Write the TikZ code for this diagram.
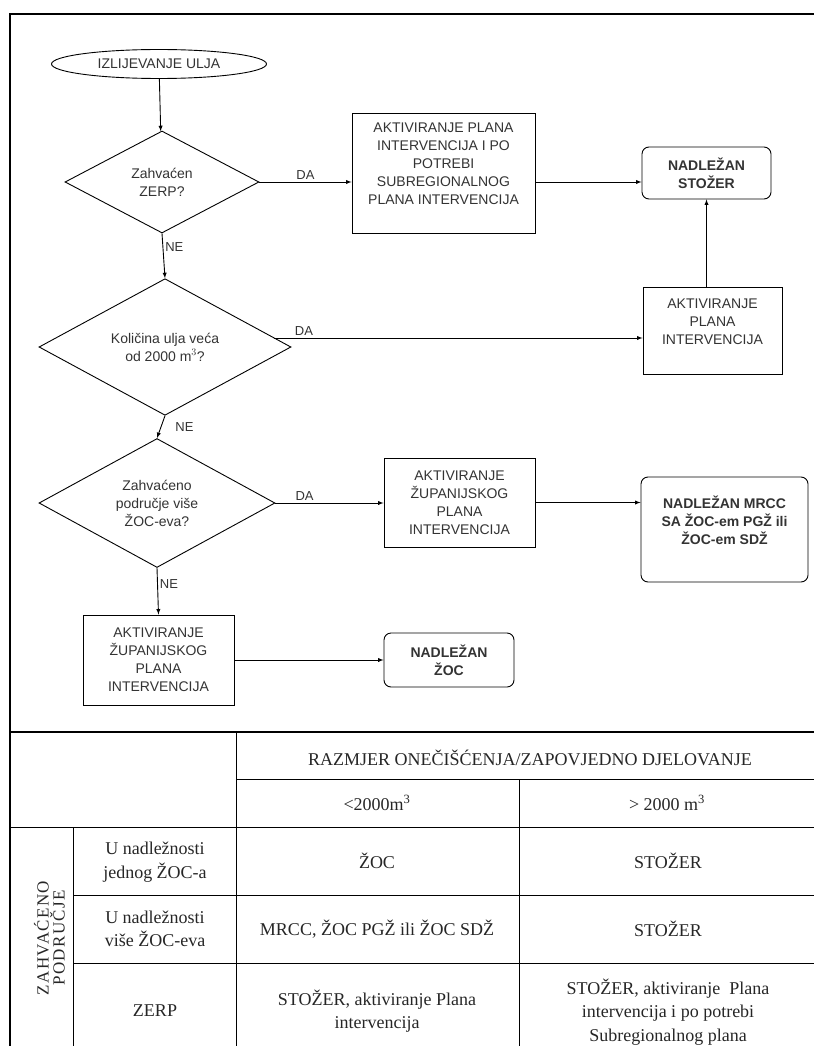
\documentclass[tikz,border=0pt]{standalone}
\usepackage{fontspec}
\setmainfont{Liberation Serif}
\newfontfamily\tokfont{Liberation Sans}
\usetikzlibrary{arrows,shapes.geometric,positioning}

\begin{document}
\begin{tikzpicture}[x=1pt,y=-1pt,
		tok/.style={font=\tokfont\fontsize{14}{18}\selectfont, text=black!80, align=center, inner sep=0pt, line width=0.9pt},
		pocetak/.style={tok, ellipse, draw, minimum width=215pt, minimum height=29pt},
		odluka/.style={tok, diamond, draw},
		akcija/.style={tok, rectangle, draw},
		nadlezan/.style={tok, rectangle, rounded corners=7pt, draw, font=\tokfont\bfseries\fontsize{14}{18}\selectfont},
		strelica/.style={-latex, line width=0.9pt},
		oznaka/.style={font=\tokfont\fontsize{13}{16}\selectfont, text=black!80, inner sep=2pt},
		celija/.style={font=\fontsize{18}{23.5}\selectfont, text=black!85, align=center, inner sep=0pt},
		crta/.style={line width=0.9pt}]

	\useasboundingbox (0,0) rectangle (814,1046);

	% okvir dijagrama
	\draw[line width=1.1pt] (10,1046) -- (10,14) -- (814,14);

	% tok odlucivanja
	\node[pocetak] (izlijevanje) at (159,64) {IZLIJEVANJE ULJA};
	\node[odluka, minimum width=194pt, minimum height=102pt] (zerp) at (162,182) {Zahvaćen\\ZERP?};
	\node[akcija, minimum width=183pt, minimum height=120pt] (planzerp) at (443.5,173)
		{AKTIVIRANJE PLANA\\INTERVENCIJA I PO\\POTREBI\\SUBREGIONALNOG\\PLANA INTERVENCIJA\\ \mbox{}};
	\node[nadlezan, minimum width=129pt, minimum height=52pt] (stozer) at (706.5,173) {NADLEŽAN\\STOŽER};
	\node[odluka, minimum width=252pt, minimum height=120pt] (kolicina) at (165,347) {Količina ulja veća\\od 2000 m$^3$?};
	\node[akcija, minimum width=139pt, minimum height=87pt] (plan) at (712.5,330.5) {AKTIVIRANJE\\PLANA\\INTERVENCIJA\\ \mbox{}};
	\node[odluka, minimum width=236pt, minimum height=120pt] (podrucje) at (157,503) {Zahvaćeno\\područje više\\ŽOC-eva?};
	\node[akcija, minimum width=151pt, minimum height=89pt] (zupanijski) at (459.5,502.5) {AKTIVIRANJE\\ŽUPANIJSKOG\\PLANA\\INTERVENCIJA};
	\node[nadlezan, minimum width=167pt, minimum height=105pt] (mrcc) at (724.5,529.5) {NADLEŽAN MRCC\\SA ŽOC-em PGŽ ili\\ŽOC-em SDŽ\\ \mbox{}};
	\node[akcija, minimum width=151pt, minimum height=90pt] (zupanijski2) at (158.5,660) {AKTIVIRANJE\\ŽUPANIJSKOG\\PLANA\\INTERVENCIJA};
	\node[nadlezan, minimum width=130pt, minimum height=54pt] (zoc) at (449,660) {NADLEŽAN\\ŽOC};
	\coordinate (kolicinada) at ([shift={(-17,-9)}]kolicina.east);

	\draw[strelica] (izlijevanje) -- (zerp);
	\draw[strelica] (zerp.east) -- node[oznaka, above] {DA} (zerp.east -| planzerp.west);
	\draw[strelica] (planzerp.east |- zerp.east) -- (stozer.west |- zerp.east);
	\draw[strelica] (zerp.south) -- node[oznaka, right, pos=0.3] {NE} (kolicina.north);
	\draw[strelica] (kolicinada) -- node[oznaka, above, pos=0.08] {DA} (kolicinada -| plan.west);
	\draw[strelica] (stozer.south |- plan.north) -- (stozer.south);
	\draw[strelica] (kolicina.south) -- node[oznaka, right=12pt, pos=0.5] {NE} (podrucje.north);
	\draw[strelica] (podrucje.east) -- node[oznaka, above, pos=0.27] {DA} (podrucje.east -| zupanijski.west);
	\draw[strelica] (zupanijski.east) -- (zupanijski.east -| mrcc.west);
	\draw[strelica] (podrucje.south) -- node[oznaka, right, pos=0.35] {NE} (zupanijski2.north);
	\draw[strelica] (zupanijski2.east) -- (zupanijski2.east -| zoc.west);

	% tablica
	\draw[line width=1.6pt] (10,732) -- (814,732);
	\draw[crta] (236,732) -- (236,1046);
	\draw[crta] (236,779) -- (814,779);
	\draw[crta] (519,779) -- (519,1046);
	\draw[crta] (10,827) -- (814,827);
	\draw[crta] (73,827) -- (73,1046);
	\draw[crta] (73,895) -- (814,895);
	\draw[crta] (73,963) -- (814,963);

	\node[celija] (razmjer) at (530,758) {RAZMJER ONEČIŠĆENJA/ZAPOVJEDNO DJELOVANJE};
	\node[celija] (manje) at (377,803) {<2000m\textsuperscript{3}};
	\node[celija] (vise) at (667,803) {> 2000 m\textsuperscript{3}};
	\node[celija, rotate=90, font=\fontsize{17}{16}\selectfont\addfontfeature{LetterSpace=8}] (zahvaceno) at (49.5,938) {ZAHVAĆENO\\PODRUČJE};
	\node[celija] (jedan) at (155,862) {U nadležnosti\\jednog ŽOC-a};
	\node[celija] (vise zoc) at (155,929) {U nadležnosti\\više ŽOC-eva};
	\node[celija] (zerp red) at (155,1011) {ZERP};
	\node[celija] (jedan manje) at (377,861) {ŽOC};
	\node[celija] (jedan vise) at (668,861) {STOŽER};
	\node[celija] (vise manje) at (377,929) {MRCC, ŽOC PGŽ ili ŽOC SDŽ};
	\node[celija] (vise vise) at (668,929) {STOŽER};
	\node[celija] (zerp manje) at (377,1011) {STOŽER, aktiviranje Plana\\intervencija};
	\node[celija] (zerp vise) at (668,1012) {STOŽER, aktiviranje\ \ Plana\\intervencija i po potrebi\\Subregionalnog plana};
\end{tikzpicture}
\end{document}
